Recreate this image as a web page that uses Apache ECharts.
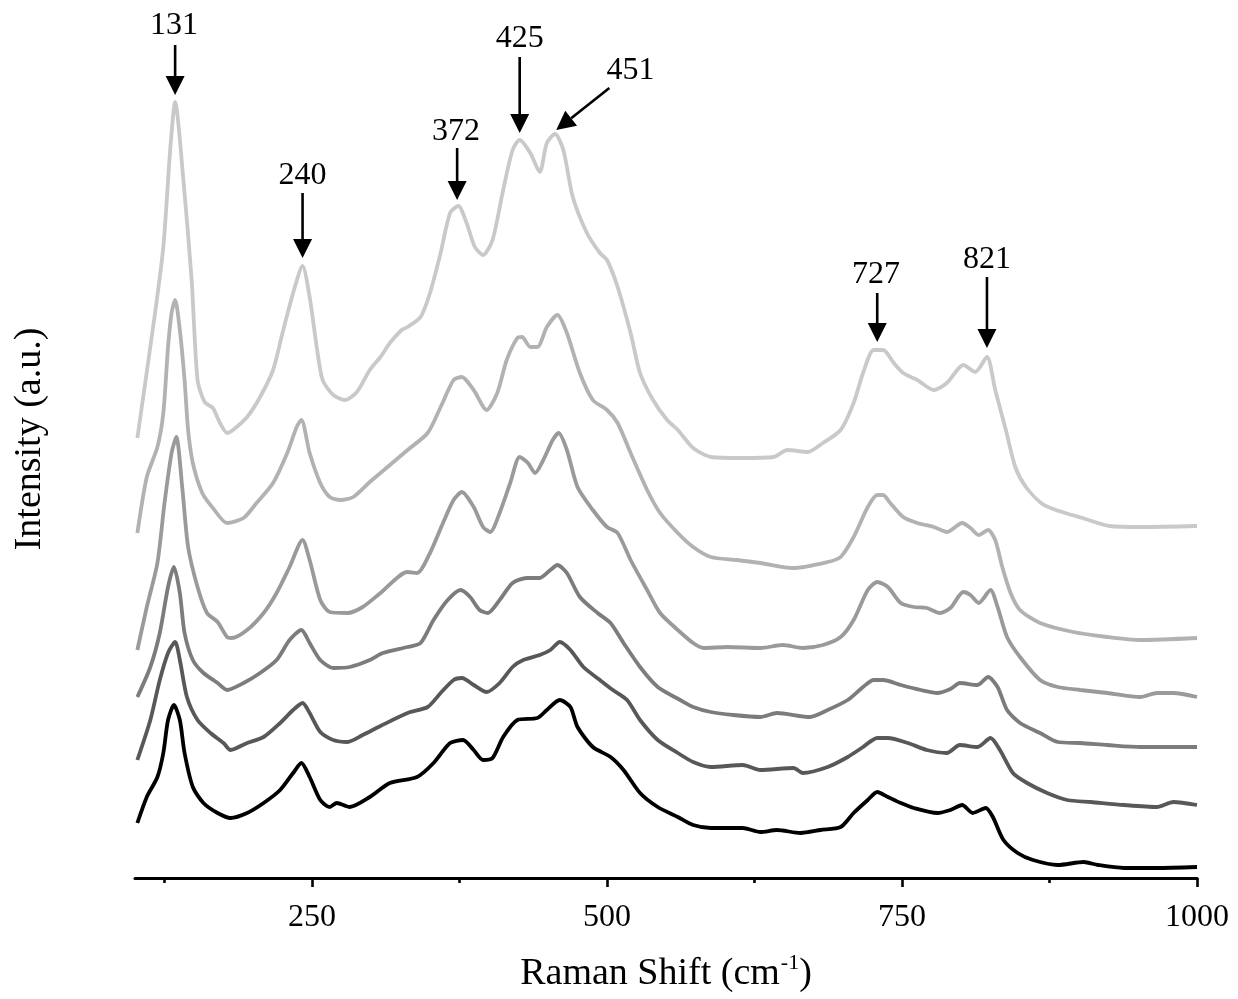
<!DOCTYPE html>
<html>
<head>
<meta charset="utf-8">
<script src="https://cdn.jsdelivr.net/npm/echarts@6/dist/echarts.min.js"></script>
<style>
html,body{margin:0;padding:0;background:#fff;}
#chart{width:1238px;height:999px;}
</style>
</head>
<body>
<div id="chart"></div>
<script>
// Raman shift (cm-1) vs intensity (a.u.), six stacked spectra, top (lightest) to bottom (black)
const spectrum1 = [[102,440],[117,565],[124,631],[130,731],[134,776],[141,698],[148,598],[153,498],[159,476],[166,470],[172,455],[178,445],[183,448],[195,461],[206,481],[217,508],[225,545],[234,585],[242,612],[248,581],[254,531],[259,498],[268,483],[278,478],[288,486],[299,508],[308,521],[316,535],[326,548],[331,551],[342,561],[350,585],[359,625],[367,665],[374,672],[381,655],[388,631],[395,623],[403,638],[412,688],[420,728],[426,738],[435,725],[443,706],[449,735],[456,744],[463,728],[471,681],[483,645],[494,625],[500,618],[509,591],[520,545],[528,505],[539,478],[551,458],[560,448],[573,430],[588,421],[615,420],[641,421],[653,428],[670,426],[683,435],[698,448],[709,475],[717,505],[726,528],[734,528],[743,515],[751,505],[763,498],[777,488],[788,495],[802,513],[812,506],[822,521],[829,488],[838,448],[846,411],[855,391],[869,374],[883,367],[903,360],[926,352],[955,351],[1000,352]];
const spectrum2 = [[102,345],[110,401],[119,431],[124,465],[128,531],[131,565],[134,578],[138,548],[142,498],[145,448],[149,415],[157,385],[166,370],[178,355],[192,360],[203,375],[217,395],[229,425],[237,451],[241,458],[248,425],[257,395],[265,381],[274,378],[285,381],[299,396],[308,405],[331,428],[348,445],[359,471],[370,498],[377,501],[387,488],[398,468],[407,485],[415,518],[424,540],[428,541],[435,531],[441,531],[449,551],[458,563],[466,545],[477,505],[488,478],[500,468],[509,455],[520,425],[534,388],[545,365],[560,345],[573,331],[588,321],[610,318],[630,315],[658,310],[687,316],[698,321],[709,341],[721,371],[729,383],[734,383],[740,375],[751,361],[763,355],[777,351],[788,346],[801,355],[808,350],[815,343],[823,348],[829,338],[835,311],[842,285],[850,268],[867,255],[895,246],[924,241],[952,238],[1000,240]];
const spectrum3 = [[102,228],[110,271],[119,315],[125,375],[131,425],[135,441],[140,391],[145,331],[153,291],[161,265],[170,256],[178,241],[182,240],[195,248],[209,265],[220,285],[231,311],[242,338],[248,318],[257,278],[265,266],[280,265],[293,271],[308,285],[331,306],[339,305],[350,325],[361,355],[370,378],[377,386],[387,371],[395,351],[401,346],[409,365],[418,395],[426,421],[433,415],[439,405],[446,418],[454,438],[459,445],[466,428],[475,391],[488,368],[500,351],[509,345],[520,318],[534,288],[545,265],[560,248],[573,235],[582,230],[602,231],[630,230],[649,233],[666,230],[683,233],[698,241],[709,258],[721,288],[729,296],[738,291],[749,275],[760,271],[771,270],[782,265],[791,270],[802,286],[808,283],[815,275],[825,288],[831,271],[839,241],[850,221],[867,198],[882,191],[901,188],[924,185],[952,181],[966,185],[980,185],[1000,181]];
const spectrum4 = [[102,181],[113,211],[121,245],[128,291],[133,311],[138,285],[142,245],[149,218],[158,205],[170,195],[178,188],[192,195],[206,205],[220,218],[231,238],[241,248],[248,235],[257,218],[268,210],[282,211],[299,218],[310,225],[331,231],[342,235],[353,258],[365,278],[376,288],[384,281],[392,268],[399,265],[409,278],[420,295],[432,300],[443,300],[452,308],[458,313],[466,305],[477,281],[492,265],[503,255],[514,235],[528,211],[543,191],[562,178],[573,171],[588,166],[607,163],[630,161],[644,165],[672,161],[687,168],[704,178],[717,191],[726,198],[734,198],[749,193],[766,188],[780,185],[791,189],[799,195],[814,193],[823,201],[831,191],[839,168],[850,155],[867,145],[882,136],[901,135],[924,133],[952,131],[1000,131]];
const spectrum5 = [[102,118],[113,158],[121,198],[128,225],[134,236],[138,218],[144,181],[153,158],[164,145],[175,135],[181,128],[195,135],[209,141],[223,155],[234,168],[242,175],[248,165],[257,146],[268,138],[280,136],[293,143],[308,152],[331,165],[348,171],[359,185],[370,198],[377,200],[387,193],[398,186],[409,195],[420,211],[429,218],[443,223],[452,228],[460,236],[469,228],[480,211],[494,198],[505,188],[517,178],[528,158],[543,138],[560,125],[573,116],[588,111],[615,113],[630,108],[658,110],[666,105],[687,111],[704,121],[717,131],[729,140],[738,140],[755,135],[771,128],[788,125],[799,133],[814,131],[825,140],[833,128],[844,105],[856,95],[873,85],[890,78],[910,76],[938,73],[966,71],[980,76],[1000,73]];
const spectrum6 = [[102,55],[110,81],[119,101],[124,125],[128,158],[133,173],[138,158],[142,125],[149,91],[158,75],[170,65],[181,60],[195,65],[209,75],[223,88],[234,105],[241,115],[248,101],[257,78],[265,71],[271,75],[282,71],[299,81],[316,95],[339,101],[353,115],[367,135],[378,138],[387,128],[395,118],[403,120],[412,141],[424,158],[441,160],[449,168],[460,178],[469,171],[475,151],[488,131],[503,121],[514,108],[528,85],[543,71],[560,61],[573,53],[588,50],[615,50],[630,46],[644,48],[664,45],[681,48],[698,51],[709,65],[721,78],[729,86],[738,81],[749,75],[760,70],[780,65],[791,68],[801,73],[810,65],[821,70],[827,61],[836,38],[848,25],[861,18],[882,13],[904,16],[916,13],[938,10],[966,10],[1000,11]];

const spectra = [spectrum1, spectrum2, spectrum3, spectrum4, spectrum5, spectrum6];
const spectrumColors = ['#c9c9c9', '#b2b2b2', '#9a9a9a', '#7c7c7c', '#585858', '#000000'];

// x-axis ticks
const majorTicks = [250, 500, 750, 1000];
const minorTicks = [125, 375, 625, 875];

// peak annotations (data space)
const peakLabels = ['131', '240', '372', '425', '451', '727', '821'];
const labelX = [133, 242, 372, 426, 520, 728, 822];
const labelY = [852, 702, 746, 839, 807, 603, 618];
const arrowFromX = [134, 242, 373, 426, 502, 729, 822];
const arrowFromY = [833, 685, 730, 821, 790, 585, 601];
const arrowToX = [134, 242, 373, 426, 457, 729, 822];
const arrowToY = [783, 620, 678, 745, 748, 536, 530];

const FONT = '"Liberation Serif", "Times New Roman", serif';

const chart = echarts.init(document.getElementById('chart'), null, {renderer: 'canvas'});

const lineSeries = spectra.map((d, i) => ({
  type: 'line',
  data: d,
  xAxisIndex: 0,
  yAxisIndex: 0,
  showSymbol: false,
  smooth: 0.25,
  lineStyle: {color: spectrumColors[i], width: 3.8},
  itemStyle: {color: spectrumColors[i]},
  z: 2 + i,
  silent: true
}));

const annotationSeries = {
  type: 'custom',
  xAxisIndex: 0,
  yAxisIndex: 0,
  clip: false,
  silent: true,
  z: 20,
  data: peakLabels.map((_, i) => [arrowToX[i], arrowToY[i]]),
  encode: {x: 0, y: 1},
  renderItem: function (params, api) {
    const i = params.dataIndex;
    const p0 = api.coord([arrowFromX[i], arrowFromY[i]]);
    const p1 = api.coord([arrowToX[i], arrowToY[i]]);
    const pl = api.coord([labelX[i], labelY[i]]);
    const dx = p1[0] - p0[0], dy = p1[1] - p0[1];
    const len = Math.sqrt(dx * dx + dy * dy);
    const ux = dx / len, uy = dy / len;
    const headLen = 19, headW = 9.5;
    const bx = p1[0] - ux * headLen, by = p1[1] - uy * headLen;
    return {
      type: 'group',
      children: [
        {type: 'line', shape: {x1: p0[0], y1: p0[1], x2: bx, y2: by}, style: {stroke: '#000', lineWidth: 2.6}},
        {type: 'polygon', shape: {points: [[p1[0], p1[1]], [bx - uy * headW, by + ux * headW], [bx + uy * headW, by - ux * headW]]}, style: {fill: '#000'}},
        {type: 'text', x: pl[0], y: pl[1], style: {text: peakLabels[i], fill: '#000', fontSize: 32, fontFamily: FONT, align: 'center', verticalAlign: 'middle'}}
      ]
    };
  }
};

const option = {
  backgroundColor: '#ffffff',
  animation: false,
  grid: {left: 135, right: 41, top: 0, bottom: 121, containLabel: false, outerBoundsMode: 'none'},
  xAxis: [
    {
      type: 'value',
      min: 100,
      max: 1000,
      position: 'bottom',
      name: 'Raman Shift (cm{sup|-1})',
      nameLocation: 'middle',
      nameGap: 74,
      nameTextStyle: {
        fontFamily: FONT, fontSize: 38, lineHeight: 44, color: '#000',
        rich: {sup: {fontFamily: FONT, fontSize: 22, lineHeight: 22, color: '#000', verticalAlign: 'bottom', padding: [0, 0, 22, 1]}}
      },
      axisLine: {show: true, onZero: false, lineStyle: {color: '#000', width: 3}},
      axisTick: {show: true, customValues: majorTicks, length: 9, lineStyle: {color: '#000', width: 2.6}},
      axisLabel: {show: true, customValues: majorTicks, margin: 24, fontFamily: FONT, fontSize: 32, color: '#000', formatter: function (v) { return String(v); }},
      splitLine: {show: false}
    },
    {
      type: 'value',
      min: 100,
      max: 1000,
      position: 'bottom',
      offset: 0,
      axisLine: {show: false},
      axisTick: {show: true, customValues: minorTicks, length: 5, lineStyle: {color: '#000', width: 2.6}},
      axisLabel: {show: false},
      splitLine: {show: false}
    }
  ],
  yAxis: {
    type: 'value',
    min: 0,
    max: 878,
    name: 'Intensity (a.u.)',
    nameLocation: 'middle',
    nameRotate: 90,
    nameGap: 86,
    nameTextStyle: {fontFamily: FONT, fontSize: 38, color: '#000'},
    axisLine: {show: false},
    axisTick: {show: false},
    axisLabel: {show: false},
    splitLine: {show: false}
  },
  series: lineSeries.concat([annotationSeries])
};

chart.setOption(option);
</script>
</body>
</html>
